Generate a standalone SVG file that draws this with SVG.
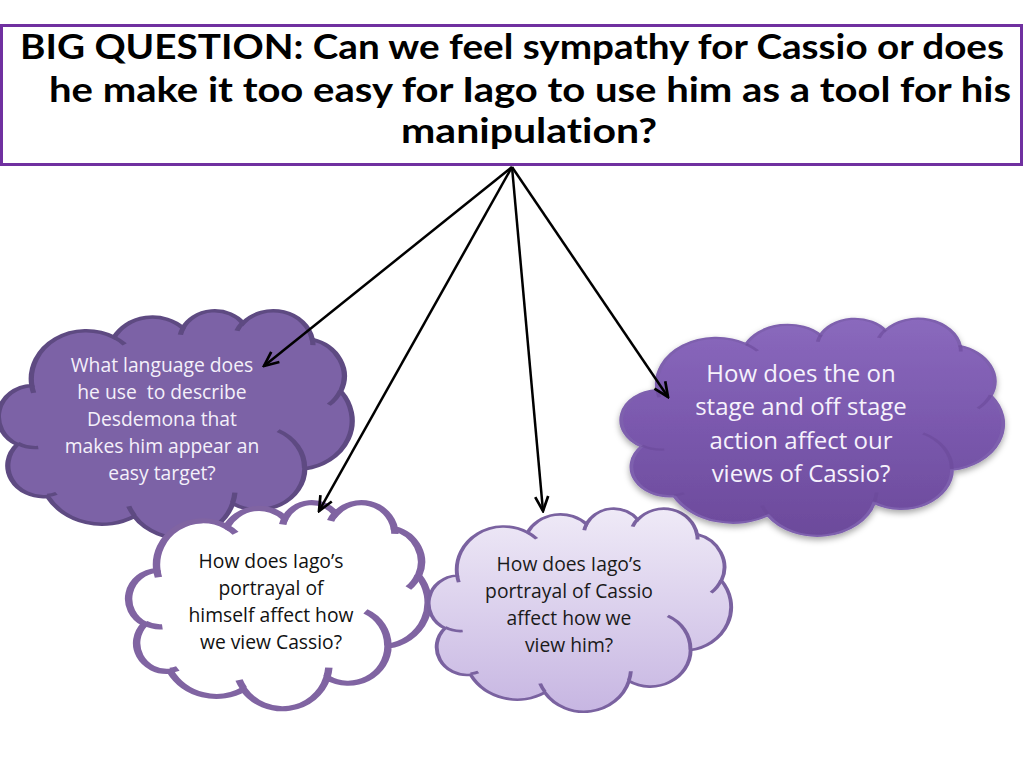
<svg xmlns="http://www.w3.org/2000/svg" xmlns:xlink="http://www.w3.org/1999/xlink" width="1024" height="768" viewBox="0 0 1024 768">
<style>
.title{font-family:Lato,"Liberation Sans",sans-serif;font-weight:700;font-size:35px;fill:#000;font-variant-ligatures:none}
.t{font-family:"Open Sans","Liberation Sans",sans-serif;font-size:19.3px;text-anchor:middle}
.tb{font-family:"Open Sans","Liberation Sans",sans-serif;font-size:24px;text-anchor:middle}
.cl{vector-effect:non-scaling-stroke}
.inner{fill:none;vector-effect:non-scaling-stroke}
.conn{stroke:#000;stroke-width:2.5;fill:none;marker-end:url(#arr)}
</style>
<defs>
<path id="cloud" d="M9.03,33.26 A15.63,21.27 0 0 1 32.42,12.04 A12.34,16.82 0 0 1 51.98,7.96 A10.10,13.76 0 0 1 69.05,5.75 A11.24,15.27 0 0 1 88.70,12.91 A12.34,16.84 0 0 1 96.81,35.80 A15.68,21.34 0 0 1 86.59,69.92 A13.39,18.21 0 0 1 66.10,85.22 A15.63,21.33 0 0 1 38.16,90.91 A17.87,24.41 0 0 1 13.49,82.14 A10.09,13.70 0 0 1 4.93,59.19 A10.06,13.76 0 0 1 9.03,33.26 Z"/>
<path id="cloudIn" d="M10.86,60.59 A10.06,13.76 0 0 1 5.02,58.77 M16.04,80.78 A10.09,13.70 0 0 1 13.46,81.67 M38.14,90.49 A15.63,21.33 0 0 1 36.59,86.45 M66.73,80.44 A15.63,21.33 0 0 1 66.11,84.87 M79.00,53.13 A13.39,18.21 0 0 1 86.52,69.65 M96.75,35.54 A12.34,16.84 0 0 1 93.40,41.74 M88.71,12.56 A11.24,15.27 0 0 1 88.89,15.48 M67.31,9.15 A11.24,15.27 0 0 1 69.02,5.42 M51.25,10.93 A10.10,13.76 0 0 1 52.09,7.71 M32.41,12.02 A15.63,21.27 0 0 1 35.42,15.15 M9.55,36.55 A15.63,21.27 0 0 1 9.03,33.26"/>
<linearGradient id="gLav" x1="0" y1="0" x2="0" y2="1">
<stop offset="0" stop-color="#efeaf7"/>
<stop offset="1" stop-color="#c7b6e2"/>
</linearGradient>
<linearGradient id="gPur" x1="0" y1="0" x2="0" y2="1">
<stop offset="0" stop-color="#8a69bd"/>
<stop offset="0.5" stop-color="#7a58ad"/>
<stop offset="1" stop-color="#6c4a9b"/>
</linearGradient>
<filter id="shadow" x="-10%" y="-10%" width="120%" height="130%">
<feDropShadow dx="0" dy="3" stdDeviation="3" flood-color="#000" flood-opacity="0.35"/>
</filter>
<marker id="arr" markerUnits="userSpaceOnUse" viewBox="0 0 18 16" refX="16" refY="8" markerWidth="18" markerHeight="16" orient="auto">
<path d="M1.5,1.5 L16,8 L1.5,14.5" fill="none" stroke="#000" stroke-width="2.7"/>
</marker>
</defs>
<rect width="1024" height="768" fill="#fff"/>

<g id="title">
<rect x="1.5" y="25.5" width="1020" height="139" fill="#fff" stroke="#7030a0" stroke-width="3"/>
<text class="title" x="20" y="59" textLength="984" lengthAdjust="spacingAndGlyphs">BIG QUESTION: Can we feel sympathy for Cassio or does</text>
<text class="title" x="49" y="102" textLength="962" lengthAdjust="spacingAndGlyphs">he make it too easy for Iago to use him as a tool for his</text>
<text class="title" x="401" y="143" textLength="256" lengthAdjust="spacingAndGlyphs">manipulation?</text>
</g>

<g id="cloud1">
<use href="#cloud" class="cl" transform="translate(0,310) scale(3.52,2.27)" fill="#7c62a6" stroke="#5e4a82" stroke-width="1.5"/>
<use href="#cloudIn" class="inner" transform="translate(0,310) scale(3.52,2.27)" stroke="#5e4a82" stroke-width="1.5"/>
<g class="t" fill="#f4f0fa">
<text x="162" y="372">What language does</text>
<text x="162" y="399" xml:space="preserve">he use  to describe</text>
<text x="162" y="426">Desdemona that</text>
<text x="162" y="453">makes him appear an</text>
<text x="162" y="480">easy target?</text>
</g>
</g>

<g id="cloud2">
<use href="#cloud" class="cl" transform="translate(130,502) scale(2.98,2.06)" fill="#fff" stroke="#8064a2" stroke-width="2.5"/>
<use href="#cloudIn" class="inner" transform="translate(130,502) scale(2.98,2.06)" stroke="#8064a2" stroke-width="2.5"/>
<g class="t" fill="#111">
<text x="271" y="568">How does Iago’s</text>
<text x="271" y="595">portrayal of</text>
<text x="271" y="622">himself affect how</text>
<text x="271" y="649">we view Cassio?</text>
</g>
</g>

<g id="cloud3">
<use href="#cloud" class="cl" transform="translate(430,508) scale(3.01,2.03)" fill="url(#gLav)" stroke="#7a62a0" stroke-width="1.3"/>
<use href="#cloudIn" class="inner" transform="translate(430,508) scale(3.01,2.03)" stroke="#7a62a0" stroke-width="1.3"/>
<g class="t" fill="#1a1a1a">
<text x="569" y="571">How does Iago’s</text>
<text x="569" y="598">portrayal of Cassio</text>
<text x="569" y="625">affect how we</text>
<text x="569" y="652">view him?</text>
</g>
</g>

<g id="cloud4">
<g filter="url(#shadow)">
<use href="#cloud" class="cl" transform="translate(623,318) scale(3.80,2.17)" fill="url(#gPur)" stroke="#7e60ae" stroke-width="1"/>
</g>
<use href="#cloudIn" class="inner" transform="translate(623,318) scale(3.80,2.17)" stroke="#6a4a9a" stroke-width="1" opacity="0.6"/>
<g class="tb" fill="#f6f2fc">
<text x="801" y="382">How does the on</text>
<text x="801" y="415">stage and off stage</text>
<text x="801" y="449">action affect our</text>
<text x="801" y="482">views of Cassio?</text>
</g>
</g>

<g id="connectors">
<line class="conn" x1="512" y1="167" x2="264" y2="366"/>
<line class="conn" x1="512" y1="167" x2="319" y2="511"/>
<line class="conn" x1="512" y1="167" x2="543" y2="511"/>
<line class="conn" x1="512" y1="167" x2="668" y2="397"/>
</g>
</svg>
